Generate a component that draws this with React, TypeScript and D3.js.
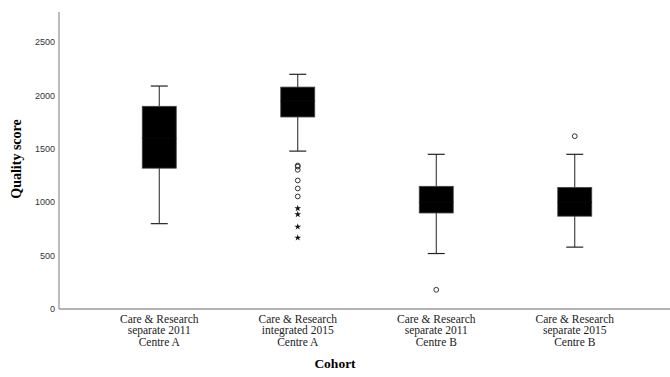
import React from "react";
import * as d3 from "d3";

const categories = [
  ["Care & Research", "separate 2011", "Centre A"],
  ["Care & Research", "integrated 2015", "Centre A"],
  ["Care & Research", "separate 2011", "Centre B"],
  ["Care & Research", "separate 2015", "Centre B"],
];
const whiskerLow = [800, 1480, 520, 580];
const q1 = [1320, 1800, 900, 870];
const medians = [1600, 1950, 1000, 1000];
const q3 = [1900, 2080, 1150, 1140];
const whiskerHigh = [2090, 2200, 1450, 1450];
const circleOutliers = [[], [1345, 1335, 1305, 1205, 1130, 1055], [180], [1620]];
const starOutliers = [[], [943, 887, 771, 668], [], []];
const yTicks = [0, 500, 1000, 1500, 2000, 2500];

export default function App() {
  const W = 670, H = 377;
  const left = 59, bottom = 309, top = 12, right = 670;
  const y = d3.scaleLinear().domain([0, 2500]).range([bottom, 42.3]);
  const x = d3.scaleBand<number>().domain([0, 1, 2, 3]).range([90, 644]);
  const bw = 34;
  const cap = 17;
  const star = d3.symbol().type(d3.symbolStar).size(14)() as string;
  const serif = "'Liberation Serif', 'Times New Roman', serif";
  return (
    <svg width={W} height={H} style={{ position: "absolute", left: 0, top: 0, background: "#fff" }}>
      <line x1={left} x2={left} y1={top} y2={bottom} stroke="#9a9a9a" strokeWidth={1.3} />
      <line x1={left} x2={right} y1={bottom} y2={bottom} stroke="#9a9a9a" strokeWidth={1.3} />
      {yTicks.map((t) => (
        <text key={t} x={55} y={y(t)} dy="0.35em" textAnchor="end" fontFamily="'Liberation Sans', Arial, sans-serif" fontSize={9} fill="#333">
          {t}
        </text>
      ))}
      <text transform={`translate(21,${159}) rotate(-90)`} textAnchor="middle" fontFamily={serif} fontWeight="bold" fontSize={14} fill="#000">
        Quality score
      </text>
      <text x={335} y={368} textAnchor="middle" fontFamily={serif} fontWeight="bold" fontSize={13.5} fill="#000">
        Cohort
      </text>
      {categories.map((lines, i) => {
        const cx = (x(i) as number) + x.bandwidth() / 2;
        return (
          <g key={i}>
            <line x1={cx} x2={cx} y1={y(whiskerHigh[i])} y2={y(q3[i])} stroke="#222" strokeWidth={1} />
            <line x1={cx} x2={cx} y1={y(q1[i])} y2={y(whiskerLow[i])} stroke="#222" strokeWidth={1} />
            <line x1={cx - cap / 2} x2={cx + cap / 2} y1={y(whiskerHigh[i])} y2={y(whiskerHigh[i])} stroke="#222" strokeWidth={1.2} />
            <line x1={cx - cap / 2} x2={cx + cap / 2} y1={y(whiskerLow[i])} y2={y(whiskerLow[i])} stroke="#222" strokeWidth={1.2} />
            <rect x={cx - bw / 2} y={y(q3[i])} width={bw} height={y(q1[i]) - y(q3[i])} fill="#000" stroke="#444" strokeWidth={0.8} />
            <line x1={cx - bw / 2} x2={cx + bw / 2} y1={y(medians[i])} y2={y(medians[i])} stroke="#080808" strokeWidth={1} />
            {circleOutliers[i].map((v, j) => (
              <circle key={j} cx={cx} cy={y(v)} r={2.4} fill="none" stroke="#333" strokeWidth={1} />
            ))}
            {starOutliers[i].map((v, j) => (
              <path key={j} d={star} transform={`translate(${cx},${y(v)})`} fill="#111" />
            ))}
            {lines.map((l, k) => (
              <text key={k} x={cx} y={322.5 + k * 11.8} textAnchor="middle" fontFamily={serif} fontSize={11.5} fill="#222">
                {l}
              </text>
            ))}
          </g>
        );
      })}
    </svg>
  );
}
